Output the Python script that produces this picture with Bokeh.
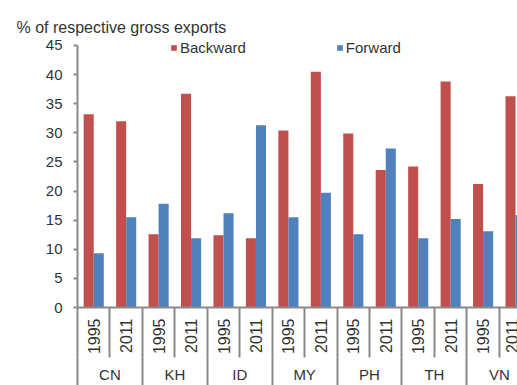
import numpy as np
from bokeh.plotting import figure
from bokeh.models import (ColumnDataSource, Range1d, FixedTicker, LinearAxis,
                          Legend, LegendItem)
from bokeh.transform import dodge
from bokeh.embed import file_html
from bokeh.resources import INLINE

# GVC participation, % of respective gross exports
countries = ["CN", "KH", "ID", "MY", "PH", "TH", "VN"]
years = ["1995", "2011"]
backward = [33.2, 32.0, 12.6, 36.7, 12.4, 11.9, 30.4, 40.5, 29.9, 23.6, 24.2, 38.8, 21.2, 36.3]
forward = [9.3, 15.5, 17.8, 11.9, 16.2, 31.3, 15.5, 19.7, 12.6, 27.3, 11.9, 15.2, 13.1, 15.9]
y_ticks = [0, 5, 10, 15, 20, 25, 30, 35, 40, 45]

RED = "#C0504D"
BLUE = "#4F81BD"
AXIS = "#8a8a8a"
TXT = "#333333"
FONT = "Liberation Sans"

n_years = len(years)
n = len(countries) * n_years
slot = np.arange(n)                      # one slot per (country, year)
bounds = np.arange(n + 1) - 0.5          # slot separators
group_centers = np.arange(len(countries)) * n_years + (n_years - 1) / 2
group_bounds = np.arange(len(countries) + 1) * n_years - 0.5

src = ColumnDataSource(dict(x=slot, backward=backward, forward=forward))

p = figure(width=517, height=385,
           x_range=Range1d(-0.5, 13.06), y_range=Range1d(0, 46.2),
           x_axis_type=None, y_axis_type=None,
           output_backend="svg", toolbar_location=None,
           min_border_left=77, min_border_right=0,
           min_border_top=38, min_border_bottom=77)
p.outline_line_color = None
p.xgrid.visible = False
p.ygrid.visible = False
p.background_fill_color = "white"
p.border_fill_color = "white"

p.title.text = "% of respective gross exports"
p.title.align = "left"
p.title.offset = -61
p.title.standoff = 5
p.title.text_font = FONT
p.title.text_font_size = "16px"
p.title.text_font_style = "normal"
p.title.text_color = TXT

bw = 0.31
rb = p.vbar(x=dodge("x", -bw / 2, range=p.x_range), top="backward", width=bw,
            bottom=0, source=src, fill_color=RED, line_color=None)
rf = p.vbar(x=dodge("x", bw / 2, range=p.x_range), top="forward", width=bw,
            bottom=0, source=src, fill_color=BLUE, line_color=None)

# value axis
yax = LinearAxis(ticker=FixedTicker(ticks=y_ticks), bounds=(0, 45))
yax.axis_line_color = AXIS
yax.axis_line_width = 2
yax.major_tick_line_color = AXIS
yax.major_tick_line_width = 2
yax.major_tick_in = 0
yax.major_tick_out = 4
yax.minor_tick_line_color = None
yax.major_label_standoff = 11
yax.major_label_text_font = FONT
yax.major_label_text_font_size = "15px"
yax.major_label_text_color = TXT
p.add_layout(yax, "left")

# year labels, with separators between every slot
# (long minor ticks act as separators; the negative standoff pulls labels back up)
xax = LinearAxis(ticker=FixedTicker(ticks=list(slot), minor_ticks=list(bounds)))
xax.major_label_overrides = {int(i): years[i % n_years] for i in slot}
xax.major_label_orientation = np.pi / 2
xax.axis_line_color = AXIS
xax.axis_line_width = 2
xax.major_tick_line_color = None
xax.major_tick_in = 0
xax.major_tick_out = 0
xax.minor_tick_line_color = AXIS
xax.minor_tick_line_width = 2
xax.minor_tick_in = 0
xax.minor_tick_out = 50
xax.major_label_standoff = -39
xax.major_label_text_font = FONT
xax.major_label_text_font_size = "16px"
xax.major_label_text_color = TXT
p.add_layout(xax, "below")

# country labels, with separators between countries
cax = LinearAxis(ticker=FixedTicker(ticks=list(group_centers), minor_ticks=list(group_bounds)))
cax.major_label_overrides = {float(c): countries[k] for k, c in enumerate(group_centers)}
cax.axis_line_color = None
cax.major_tick_line_color = None
cax.major_tick_in = 0
cax.major_tick_out = 0
cax.minor_tick_line_color = AXIS
cax.minor_tick_line_width = 2
cax.minor_tick_in = 0
cax.minor_tick_out = 45
cax.major_label_standoff = -37
cax.major_label_text_font = FONT
cax.major_label_text_font_size = "15px"
cax.major_label_text_color = TXT
p.add_layout(cax, "below")

legend = Legend(items=[LegendItem(label="Backward", renderers=[rb]),
                       LegendItem(label="Forward", renderers=[rf])],
                orientation="horizontal", location=(93, 251),
                glyph_width=7, glyph_height=7, label_standoff=3, spacing=90,
                padding=0, margin=0, border_line_color=None,
                background_fill_alpha=0,
                label_text_font=FONT, label_text_font_size="15px",
                label_text_color=TXT, label_height=15)
p.add_layout(legend)

open("out.html", "w").write(file_html(p, INLINE))
